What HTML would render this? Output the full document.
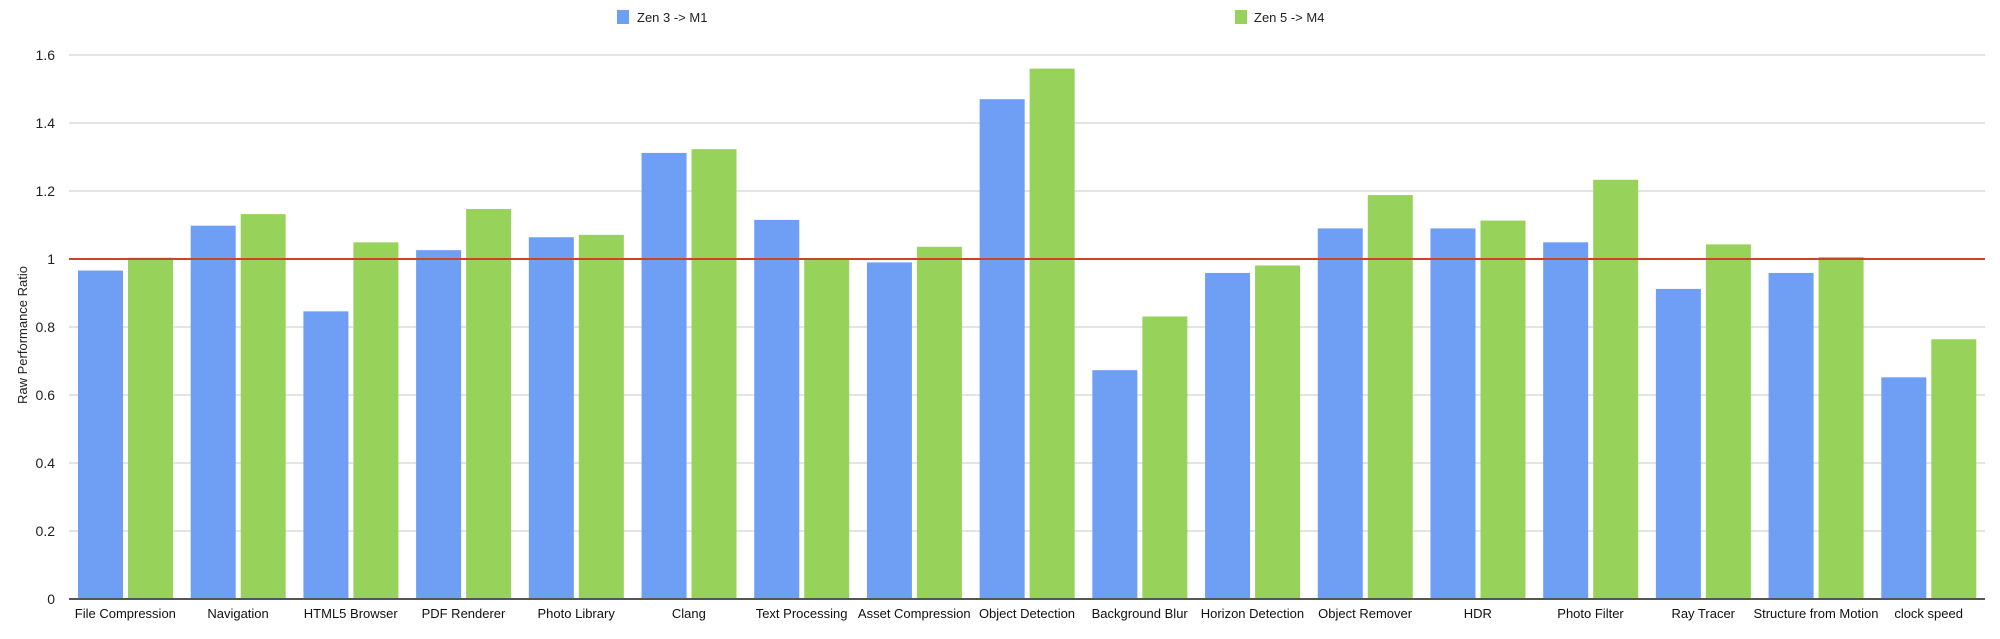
<!DOCTYPE html>
<html><head><meta charset="utf-8"><style>html,body{margin:0;padding:0;background:#fff}svg{display:block}</style></head>
<body>
<svg width="2000" height="639" xmlns="http://www.w3.org/2000/svg" font-family="Liberation Sans, sans-serif">
<g stroke="#dcdcdc" stroke-width="1.5">
<line x1="69" x2="1985" y1="55" y2="55"/><line x1="69" x2="1985" y1="123" y2="123"/><line x1="69" x2="1985" y1="191" y2="191"/>
<line x1="69" x2="1985" y1="327" y2="327"/><line x1="69" x2="1985" y1="395" y2="395"/><line x1="69" x2="1985" y1="463" y2="463"/><line x1="69" x2="1985" y1="531" y2="531"/>
</g>
<g font-size="14" fill="#222" text-anchor="end">
<text x="55" y="60">1.6</text><text x="55" y="128">1.4</text><text x="55" y="196">1.2</text><text x="55" y="264">1</text>
<text x="55" y="332">0.8</text><text x="55" y="400">0.6</text><text x="55" y="468">0.4</text><text x="55" y="536">0.2</text><text x="55" y="604">0</text>
</g>
<text transform="translate(27,335) rotate(-90)" font-size="13" text-anchor="middle" fill="#222">Raw Performance Ratio</text>
<g id="bars"></g>
<line x1="69" x2="1985" y1="259" y2="259" stroke="#c8452a" stroke-width="2"/>
<line x1="69" x2="1985" y1="599" y2="599" stroke="#555" stroke-width="2"/>
<g id="labels" font-size="13" fill="#111" text-anchor="middle"></g>
<rect x="617" y="10" width="12" height="14" fill="#6f9ef5"/>
<text x="637" y="22" font-size="13" fill="#222">Zen 3 -&gt; M1</text>
<rect x="1235" y="10" width="12" height="14" fill="#97d35a"/>
<text x="1254" y="22" font-size="13" fill="#222">Zen 5 -&gt; M4</text>
<script>
var d=[["File Compression",0.966,1.004],["Navigation",1.098,1.132],["HTML5 Browser",0.846,1.049],["PDF Renderer",1.026,1.147],["Photo Library",1.064,1.071],["Clang",1.312,1.323],["Text Processing",1.115,0.998],["Asset Compression",0.99,1.036],["Object Detection",1.47,1.56],["Background Blur",0.673,0.831],["Horizon Detection",0.959,0.981],["Object Remover",1.09,1.188],["HDR",1.09,1.113],["Photo Filter",1.049,1.233],["Ray Tracer",0.912,1.043],["Structure from Motion",0.959,1.006],["clock speed",0.652,0.764]];
var g=document.getElementById('bars'),l=document.getElementById('labels'),ns="http://www.w3.org/2000/svg",w=1916/17;
d.forEach(function(r,i){var x=69+i*w;
[[r[1],"#6f9ef5",9],[r[2],"#97d35a",59]].forEach(function(b){var e=document.createElementNS(ns,"rect");var h=b[0]*340;e.setAttribute("x",x+b[2]);e.setAttribute("y",599-h);e.setAttribute("width",45);e.setAttribute("height",h);e.setAttribute("fill",b[1]);g.appendChild(e);});
var t=document.createElementNS(ns,"text");t.setAttribute("x",x+w/2);t.setAttribute("y",618);t.textContent=r[0];l.appendChild(t);});
</script>
</svg>
</body></html>
